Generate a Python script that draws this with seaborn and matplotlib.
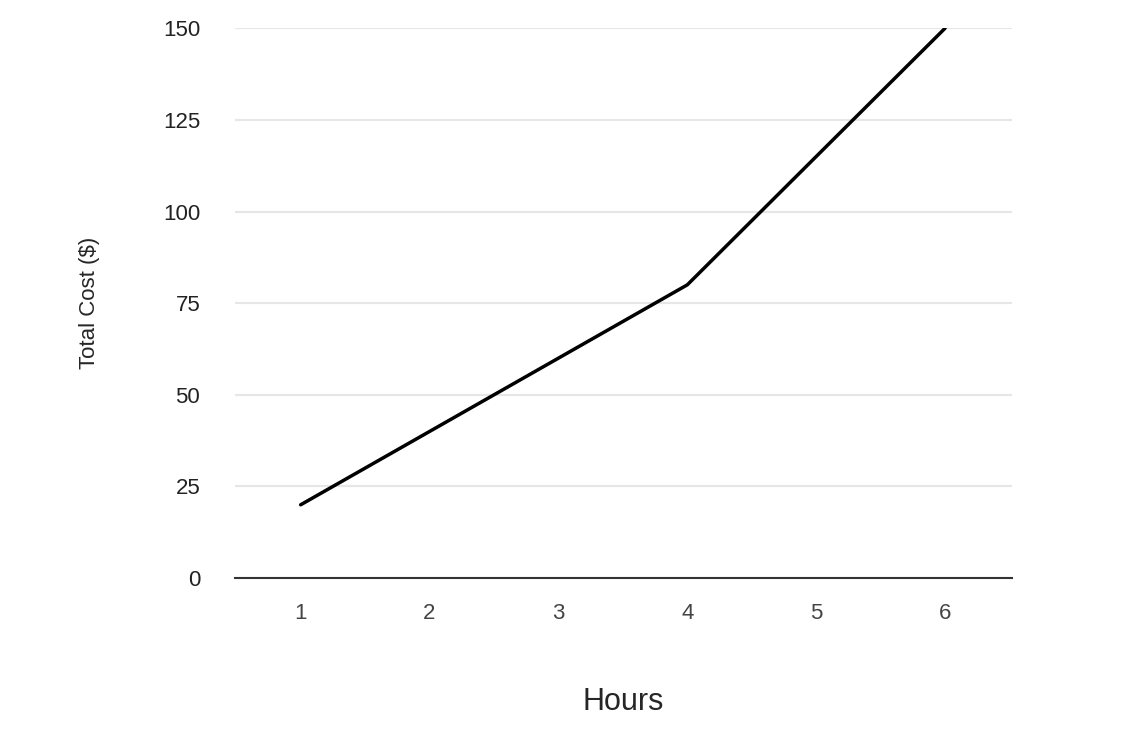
import matplotlib
matplotlib.use('Agg')
import matplotlib.pyplot as plt
import seaborn as sns
import pandas as pd

hours = [1, 2, 3, 4, 5, 6]
total_cost = [20, 40, 60, 80, 115, 150]
y_ticks = [0, 25, 50, 75, 100, 125, 150]

df = pd.DataFrame({'Hours': hours, 'Total Cost ($)': total_cost})

sns.set_style('white')
plt.rcParams['font.family'] = ['Liberation Sans', 'DejaVu Sans']

fig = plt.figure(figsize=(11.22, 7.44), dpi=100)
ax = fig.add_axes([0.2094, 0.223, 0.6926, 0.739])

sns.lineplot(ax=ax, data=df, x='Hours', y='Total Cost ($)', color='black', linewidth=2.5)

ax.set_xlim(0.49, 6.52)
ax.set_ylim(0, 150)
ax.set_xticks(hours)
ax.set_yticks(y_ticks)
ax.yaxis.grid(True, color='#e6e6e6', linewidth=1.5)
ax.set_axisbelow(True)
for s in ['top', 'right', 'left']:
    ax.spines[s].set_visible(False)
ax.spines['bottom'].set_color('#333333')
ax.spines['bottom'].set_linewidth(1.5)
ax.tick_params(axis='x', length=0, pad=18, labelsize=16, labelcolor='#444444')
ax.tick_params(axis='y', length=0, pad=25, labelsize=16, labelcolor='#222222')
ax.set_xlabel('Hours', fontsize=22, labelpad=45)
ax.set_ylabel('Total Cost ($)', fontsize=16, labelpad=45)

fig.savefig('out.png', dpi=100)
